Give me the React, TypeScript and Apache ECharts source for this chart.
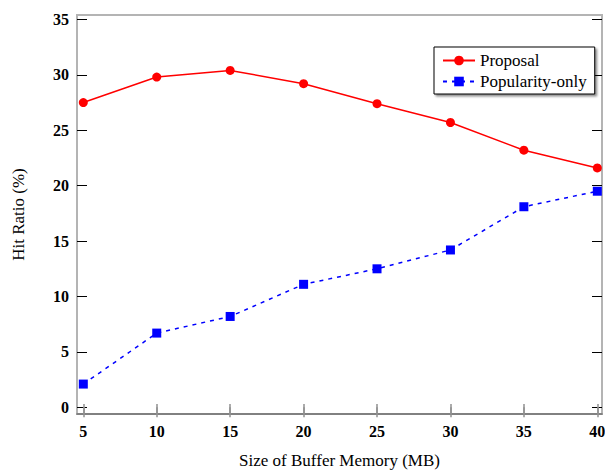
import React, { useEffect, useRef } from "react";
import * as echarts from "echarts";

const bufferSizes = [5, 10, 15, 20, 25, 30, 35, 40];
const proposal = [27.5, 29.8, 30.4, 29.2, 27.4, 25.7, 23.2, 21.6];
const popularityOnly = [2.1, 6.7, 8.2, 11.1, 12.5, 14.2, 18.1, 19.5];
const xTicks = [5, 10, 15, 20, 25, 30, 35, 40];
const yTicks = [0, 5, 10, 15, 20, 25, 30, 35];

const FONT = "Liberation Serif";

export default function App() {
  const ref = useRef<HTMLDivElement>(null);
  useEffect(() => {
    if (!ref.current) return;
    const chart = echarts.init(ref.current, null, { renderer: "svg" });
    const tickLabel = { fontFamily: FONT, fontSize: 16, fontWeight: "bold" as const, color: "#000" };
    chart.setOption({
      animation: false,
      backgroundColor: "#fff",
      textStyle: { fontFamily: FONT },
      grid: {
        left: 77,
        right: 3,
        top: 15,
        bottom: 57,
        outerBoundsMode: "none",
        containLabel: false,
        show: true,
        borderColor: "#b4b4b4",
        borderWidth: 2,
      },
      legend: {
        left: 434,
        top: 47,
        orient: "vertical",
        backgroundColor: "#fff",
        borderColor: "#000",
        borderWidth: 1,
        borderRadius: 0,
        padding: [5, 8, 4, 8],
        itemGap: 4,
        itemWidth: 32,
        itemHeight: 12,
        shadowColor: "rgba(0,0,0,0.45)",
        shadowOffsetX: 2,
        shadowOffsetY: 2,
        shadowBlur: 2,
        textStyle: { fontFamily: FONT, fontSize: 17, color: "#000" },
        data: ["Proposal", "Popularity-only"],
      },
      xAxis: [
        {
          type: "value",
          min: 4.57,
          max: 40.32,
          name: "Size of Buffer Memory (MB)",
          nameLocation: "middle",
          nameGap: 38,
          nameTextStyle: { fontFamily: FONT, fontSize: 17, color: "#000" },
          axisLine: { show: true, onZero: false, lineStyle: { color: "#707070", width: 1.5 } },
          axisTick: { show: true, inside: true, length: 10, customValues: xTicks, lineStyle: { color: "#909090", width: 1.5 } },
          axisLabel: { show: true, customValues: xTicks, margin: 9, ...tickLabel },
          splitLine: { show: false },
        },
        {
          type: "value",
          position: "top",
          min: 4.57,
          max: 40.32,
          axisLine: { show: false },
          axisTick: { show: true, inside: true, length: 10, customValues: xTicks, lineStyle: { color: "#909090", width: 1.5 } },
          axisLabel: { show: false },
          splitLine: { show: false },
        },
      ],
      yAxis: [
        {
          type: "value",
          min: -0.6,
          max: 35.4,
          name: "Hit Ratio (%)",
          nameLocation: "middle",
          nameGap: 50,
          nameTextStyle: { fontFamily: FONT, fontSize: 17, color: "#000" },
          axisLine: { show: false },
          axisTick: { show: true, inside: true, length: 10, customValues: yTicks, lineStyle: { color: "#000", width: 1 } },
          axisLabel: { show: true, customValues: yTicks, margin: 8, ...tickLabel },
          splitLine: { show: false },
        },
        {
          type: "value",
          position: "right",
          min: -0.6,
          max: 35.4,
          axisLine: { show: false },
          axisTick: { show: true, inside: true, length: 10, customValues: yTicks, lineStyle: { color: "#000", width: 1 } },
          axisLabel: { show: false },
          splitLine: { show: false },
        },
      ],
      series: [
        {
          name: "Proposal",
          type: "line",
          data: bufferSizes.map((x, i) => [x, proposal[i]]),
          symbol: "circle",
          symbolSize: 9,
          itemStyle: { color: "#ff0000" },
          lineStyle: { color: "#ff0000", width: 1.5 },
        },
        {
          name: "Popularity-only",
          type: "line",
          data: bufferSizes.map((x, i) => [x, popularityOnly[i]]),
          symbol: "rect",
          symbolSize: 9,
          itemStyle: { color: "#0000ff" },
          lineStyle: { color: "#0000ff", width: 1.5, type: [4, 5] },
        },
      ],
    });
    return () => chart.dispose();
  }, []);
  return <div ref={ref} style={{ width: 605, height: 471, position: "absolute", left: 0, top: 0 }} />;
}
